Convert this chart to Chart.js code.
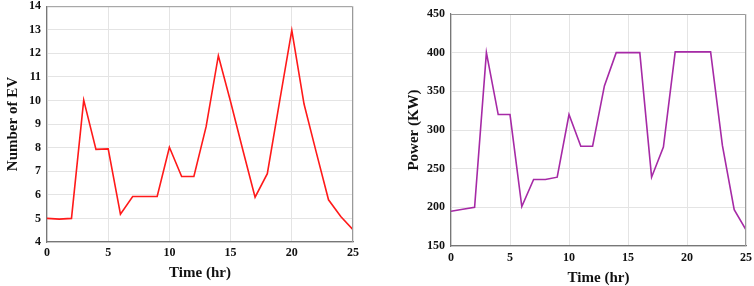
<!DOCTYPE html>
<html>
<head>
<meta charset="utf-8">
<script src="https://cdn.jsdelivr.net/npm/chart.js@4.4.0/dist/chart.umd.min.js"></script>
<style>
  body { margin: 0; background: #fff; width: 754px; height: 286px; position: relative; overflow: hidden; }
  .box { position: absolute; }
  #leftBox { left: 0; top: -7px; width: 370px; height: 293px; }
  #rightBox { left: 401px; top: 0; width: 356px; height: 291px; }
</style>
</head>
<body>
<div class="box" id="leftBox"><canvas id="evChart"></canvas></div>
<div class="box" id="rightBox"><canvas id="powerChart"></canvas></div>
<script>
// time axis (hours)
const hours = [0,1,2,3,4,5,6,7,8,9,10,11,12,13,14,15,16,17,18,19,20,21,22,23,24,25];
// number of EV per hour
const evCount = [5, 4.97, 5, 10.02, 7.93, 7.95, 5.18, 5.93, 5.93, 5.93, 8.02, 6.78, 6.78, 8.89, 11.9, 9.95, 7.9, 5.9, 6.9, 9.95, 12.98, 9.85, 7.8, 5.79, 5.08, 4.52];
// charging power (KW) per hour
const powerKW = [195, 197.5, 200, 400, 320, 320, 201, 236, 236, 239, 320, 279, 279, 357, 400, 400, 400, 239, 278, 401, 401, 401, 401, 280, 197, 171];

const serif = "'Liberation Serif', 'DejaVu Serif', serif";

// thin frame round the plot, like the original figure
const frame = {
  id: "frame",
  afterDraw(chart) {
    const a = chart.chartArea;
    const c = chart.ctx;
    c.save();
    c.strokeStyle = "#9a9a9a";
    c.lineWidth = 1;
    c.beginPath();
    c.moveTo(a.left, a.top + 0.5);
    c.lineTo(a.right - 0.5, a.top + 0.5);
    c.lineTo(a.right - 0.5, a.bottom);
    c.stroke();
    c.restore();
  }
};

function makeChart(id, values, color, yMin, yMax, yStep, yTitle, yWidth, xHeight, tickPad, pad) {
  const ctx = document.getElementById(id).getContext("2d");
  return new Chart(ctx, {
    type: "line",
    data: {
      datasets: [{
        data: hours.map((h, i) => ({ x: h, y: values[i] })),
        borderColor: color,
        borderWidth: 1.6,
        pointRadius: 0,
        tension: 0,
        fill: false,
      }],
    },
    options: {
      responsive: true,
      maintainAspectRatio: false,
      animation: false,
      layout: { padding: pad },
      plugins: { legend: { display: false }, tooltip: { enabled: false } },
      scales: {
        x: {
          type: "linear",
          min: 0, max: 25,
          ticks: { stepSize: 5, color: "#111", padding: tickPad, font: { family: serif, size: 12, weight: "bold" } },
          grid: { color: "#e4e4e4", drawTicks: false },
          border: { color: "#777", width: 1.2 },
          title: { display: true, text: "Time (hr)", color: "#111", padding: { top: 4 }, font: { family: serif, size: 15, weight: "bold" } },
          afterFit: (s) => { s.height = xHeight; },
        },
        y: {
          min: yMin, max: yMax,
          ticks: { stepSize: yStep, color: "#111", padding: 6, font: { family: serif, size: 12, weight: "bold" } },
          grid: { color: "#e4e4e4", drawTicks: false },
          border: { color: "#777", width: 1.2 },
          title: { display: true, text: yTitle, color: "#111", padding: { bottom: 2 }, font: { family: serif, size: 15, weight: "bold" } },
          afterFit: (s) => { s.width = yWidth; },
        },
      },
    },
    plugins: [frame],
  });
}

makeChart("evChart", evCount, "#ff1a1a", 4, 14, 1, "Number of EV", 47, 44, 4, { top: 0, right: 17, left: 0, bottom: 0 });
makeChart("powerChart", powerKW, "#a62aa6", 150, 450, 50, "Power (KW)", 50, 45, 5, { top: 14, right: 5, left: 0, bottom: 0 });
</script>
</body>
</html>
